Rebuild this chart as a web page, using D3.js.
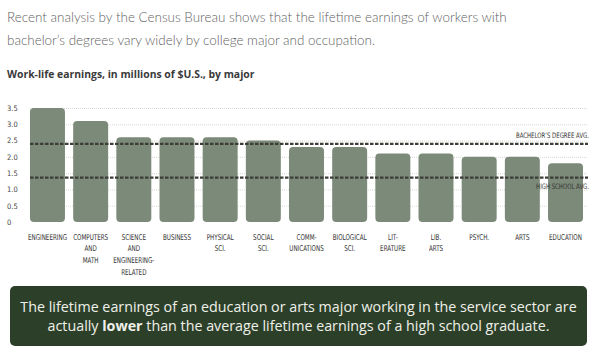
<!DOCTYPE html>
<html><head><meta charset="utf-8">
<script src="https://cdn.jsdelivr.net/npm/d3@7"></script>
<style>
html,body{margin:0;padding:0;background:#fff;}
svg{display:block;}
</style></head>
<body>
<svg id="c" width="598" height="357"></svg>
<script>
const categories = ["Engineering","Computers and Math","Science and Engineering-Related","Business","Physical Sci.","Social Sci.","Communications","Biological Sci.","Literature","Lib. Arts","Psych.","Arts","Education"];
const categoryLabels = [["ENGINEERING"],["COMPUTERS","AND","MATH"],["SCIENCE","AND","ENGINEERING-","RELATED"],["BUSINESS"],["PHYSICAL","SCI."],["SOCIAL","SCI."],["COMM-","UNICATIONS"],["BIOLOGICAL","SCI."],["LIT-","ERATURE"],["LIB.","ARTS"],["PSYCH."],["ARTS"],["EDUCATION"]];
const earnings = [3.5, 3.1, 2.6, 2.6, 2.6, 2.5, 2.3, 2.3, 2.1, 2.1, 2.0, 2.0, 1.8];
const yTicks = [0, 0.5, 1.0, 1.5, 2.0, 2.5, 3.0, 3.5];
const bachelorAvg = 2.4;
const highSchoolAvg = 1.36;
const introLines = ["Recent analysis by the Census Bureau shows that the lifetime earnings of workers with","bachelor\u2019s degrees vary widely by college major and occupation."];
const chartTitle = "Work-life earnings, in millions of $U.S., by major";

const svg = d3.select("#c");
const narrow = "'Liberation Sans Narrow','DejaVu Sans Condensed',sans-serif";

function fit(sel, target){
  const n = sel.node();
  const fs = parseFloat(sel.attr("font-size"));
  const len = n.getComputedTextLength();
  sel.attr("font-size", fs * target / len);
}

// intro text
const intro1 = svg.append("text").attr("x", 7).attr("y", 22).attr("font-family","Lato,'Open Sans',sans-serif").attr("font-weight",300).attr("font-size",15).attr("fill","#5f5f5f").text(introLines[0]);
fit(intro1, 500);
const intro2 = svg.append("text").attr("x", 7).attr("y", 45).attr("font-family","Lato,'Open Sans',sans-serif").attr("font-weight",300).attr("font-size",intro1.attr("font-size")).attr("fill","#5f5f5f").text(introLines[1]);

const t = svg.append("text").attr("x", 7).attr("y", 77.5).attr("font-family","'Open Sans',Lato,sans-serif").attr("font-weight",700).attr("font-size",10).attr("fill","#3a3a3a").text(chartTitle);
fit(t, 248);

// scales
const x = d3.scaleBand().domain(categories).range([30, 583]).paddingInner(0.19).paddingOuter(0);
const y = d3.scaleLinear().domain([0, 3.5]).range([222, 108]);

// gridlines
const grid = svg.append("g").attr("transform","translate(30,0)")
  .call(d3.axisLeft(y).tickValues(yTicks.filter(v=>v>0)).tickSize(-558).tickFormat(""));
grid.select(".domain").remove();
grid.selectAll("line").attr("stroke","#d8d8d4").attr("stroke-dasharray","1,1");

// y labels
const ya = svg.append("g").attr("transform","translate(7,0)")
  .call(d3.axisLeft(y).tickValues(yTicks).tickSize(0).tickPadding(0).tickFormat(d => d === 0 ? "0" : d3.format(".1f")(d)));
ya.select(".domain").remove();
ya.selectAll("text").attr("text-anchor","start").attr("x",0).attr("font-family",narrow).attr("font-size",7.5).attr("fill","#444");

// bars
svg.append("g").selectAll("rect").data(earnings).join("rect")
  .attr("x", (d,i) => x(categories[i]))
  .attr("y", d => y(d))
  .attr("width", x.bandwidth())
  .attr("height", d => y(0) - y(d))
  .attr("rx", 4).attr("ry", 4)
  .attr("fill", "#7c8a79");

// avg lines
[bachelorAvg, highSchoolAvg].forEach(v => {
  svg.append("line").attr("x1",30).attr("x2",588).attr("y1",y(v)).attr("y2",y(v))
    .attr("stroke","#3d3d38").attr("stroke-width",2.2).attr("stroke-dasharray","3.5,1.5");
});
svg.append("text").attr("transform",`translate(589,${y(bachelorAvg)-6}) scale(0.8,1)`).attr("text-anchor","end")
  .attr("font-family",narrow).attr("font-size",7.5).attr("fill","#333").text("BACHELOR\u2019S DEGREE AVG.");
svg.append("text").attr("transform",`translate(589,${y(highSchoolAvg)+11}) scale(0.8,1)`).attr("text-anchor","end")
  .attr("font-family",narrow).attr("font-size",7.5).attr("fill","#333").text("HIGH SCHOOL AVG.");

// x labels
const xl = svg.append("g");
categories.forEach((c,i) => {
  const cx = x(c) + x.bandwidth()/2;
  categoryLabels[i].forEach((line,j) => {
    xl.append("text").attr("transform",`translate(${cx},${239.5 + j*11.8}) scale(0.78,1)`)
      .attr("text-anchor","middle").attr("font-family",narrow).attr("font-size",8).attr("fill","#333").text(line);
  });
});

// bottom box
svg.append("rect").attr("x",10).attr("y",286).attr("width",577).attr("height",60).attr("rx",5).attr("fill","#2c4029");
const b1 = svg.append("text").attr("x",298.5).attr("y",312).attr("text-anchor","middle").attr("font-family","'Open Sans',Lato,sans-serif").attr("font-size",14).attr("fill","#f0f0ea").text("The lifetime earnings of an education or arts major working in the service sector are");
fit(b1, 557);
const b2 = svg.append("text").attr("x",298.5).attr("y",330.5).attr("text-anchor","middle").attr("font-family","'Open Sans',Lato,sans-serif").attr("font-size",b1.attr("font-size")).attr("fill","#f0f0ea");
b2.append("tspan").text("actually ");
b2.append("tspan").attr("font-weight",700).text("lower");
b2.append("tspan").text(" than the average lifetime earnings of a high school graduate.");
</script>
</body></html>
